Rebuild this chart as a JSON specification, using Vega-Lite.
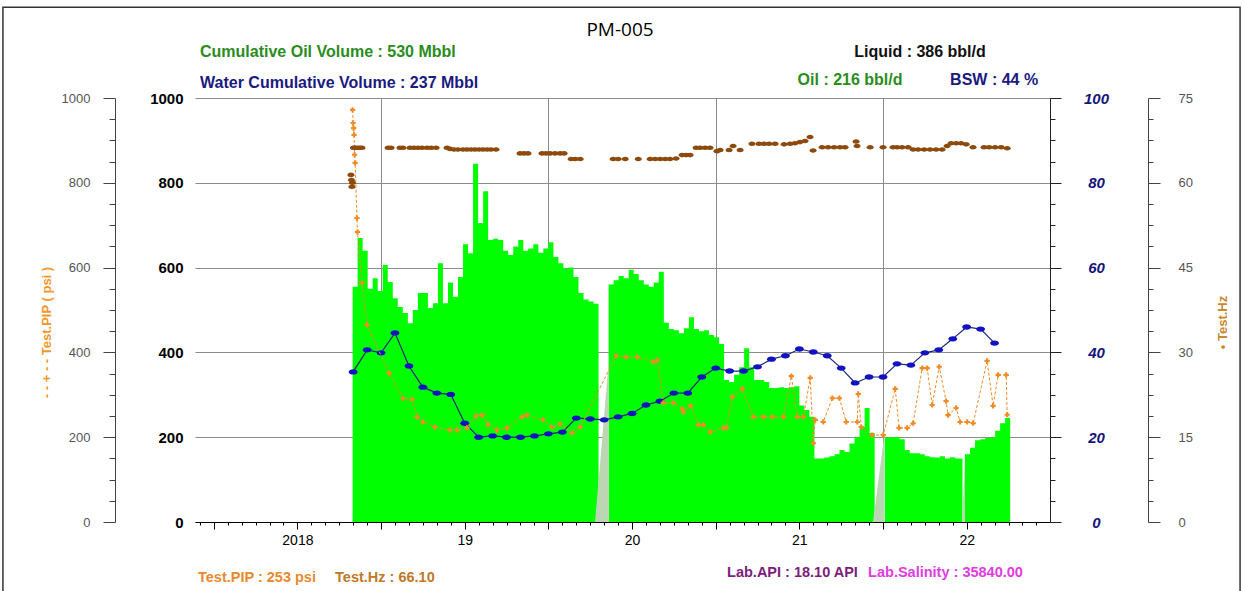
{
  "$schema": "https://vega.github.io/schema/vega-lite/v6.json",
  "width": 855,
  "height": 424,
  "autosize": {"type": "none"},
  "padding": {"left": 195, "top": 98, "right": 195, "bottom": 69},
  "background": "white",
  "config": {
    "view": {"stroke": null},
    "font": "Liberation Sans",
    "axisX": {"labelFont": "Liberation Sans", "labelFontSize": 14, "labelColor": "#000", "labelPadding": 4, "domainColor": "#000", "tickColor": "#000", "gridColor": "#8c8c8c", "labelOverlap": false, "labelFlush": false, "labelBound": false}
  },
  "datasets": {
    "liquid": [
      {"t":2018.33,"liq":555},{"t":2018.36,"liq":670},{"t":2018.39,"liq":640},{"t":2018.42,"liq":550},{"t":2018.45,"liq":575},{"t":2018.48,"liq":545},{"t":2018.51,"liq":606},{"t":2018.54,"liq":566},{"t":2018.57,"liq":528},{"t":2018.60,"liq":507},
      {"t":2018.63,"liq":493},{"t":2018.66,"liq":469},{"t":2018.69,"liq":500},{"t":2018.72,"liq":540},{"t":2018.75,"liq":540},{"t":2018.78,"liq":505},{"t":2018.81,"liq":516},{"t":2018.84,"liq":610},{"t":2018.87,"liq":516},{"t":2018.90,"liq":565},
      {"t":2018.93,"liq":531},{"t":2018.96,"liq":578},{"t":2018.99,"liq":655},{"t":2019.02,"liq":634},{"t":2019.05,"liq":845},{"t":2019.08,"liq":705},{"t":2019.11,"liq":780},{"t":2019.14,"liq":665},{"t":2019.17,"liq":668},{"t":2019.20,"liq":665},
      {"t":2019.23,"liq":640},{"t":2019.26,"liq":630},{"t":2019.29,"liq":650},{"t":2019.32,"liq":665},{"t":2019.35,"liq":640},{"t":2019.38,"liq":645},{"t":2019.41,"liq":655},{"t":2019.44,"liq":635},{"t":2019.47,"liq":645},{"t":2019.50,"liq":660},
      {"t":2019.53,"liq":625},{"t":2019.56,"liq":610},{"t":2019.59,"liq":598},{"t":2019.62,"liq":600},{"t":2019.65,"liq":578},{"t":2019.68,"liq":540},{"t":2019.71,"liq":525},{"t":2019.74,"liq":520},{"t":2019.77,"liq":515},{"t":2019.80,"liq":0},
      {"t":2019.83,"liq":0},{"t":2019.86,"liq":560},{"t":2019.89,"liq":570},{"t":2019.92,"liq":580},{"t":2019.95,"liq":575},{"t":2019.98,"liq":595},{"t":2020.01,"liq":585},{"t":2020.04,"liq":570},{"t":2020.07,"liq":560},{"t":2020.10,"liq":555},
      {"t":2020.13,"liq":565},{"t":2020.16,"liq":590},{"t":2020.19,"liq":470},{"t":2020.22,"liq":455},{"t":2020.25,"liq":452},{"t":2020.28,"liq":445},{"t":2020.31,"liq":457},{"t":2020.34,"liq":483},{"t":2020.37,"liq":455},{"t":2020.40,"liq":450},
      {"t":2020.43,"liq":452},{"t":2020.46,"liq":441},{"t":2020.49,"liq":436},{"t":2020.52,"liq":420},{"t":2020.55,"liq":335},{"t":2020.58,"liq":330},{"t":2020.61,"liq":347},{"t":2020.64,"liq":365},{"t":2020.67,"liq":410},{"t":2020.70,"liq":365},
      {"t":2020.73,"liq":335},{"t":2020.76,"liq":335},{"t":2020.79,"liq":330},{"t":2020.82,"liq":316},{"t":2020.85,"liq":316},{"t":2020.88,"liq":318},{"t":2020.91,"liq":316},{"t":2020.94,"liq":318},{"t":2020.97,"liq":320},{"t":2021.00,"liq":275},
      {"t":2021.03,"liq":264},{"t":2021.06,"liq":248},{"t":2021.09,"liq":150},{"t":2021.12,"liq":150},{"t":2021.15,"liq":152},{"t":2021.18,"liq":155},{"t":2021.21,"liq":160},{"t":2021.24,"liq":170},{"t":2021.27,"liq":165},{"t":2021.30,"liq":185},
      {"t":2021.33,"liq":200},{"t":2021.36,"liq":224},{"t":2021.39,"liq":269},{"t":2021.42,"liq":210},{"t":2021.45,"liq":0},{"t":2021.48,"liq":0},{"t":2021.51,"liq":200},{"t":2021.54,"liq":200},{"t":2021.57,"liq":200},{"t":2021.60,"liq":195},
      {"t":2021.63,"liq":170},{"t":2021.66,"liq":162},{"t":2021.69,"liq":162},{"t":2021.72,"liq":160},{"t":2021.75,"liq":155},{"t":2021.78,"liq":153},{"t":2021.81,"liq":152},{"t":2021.84,"liq":155},{"t":2021.87,"liq":150},{"t":2021.90,"liq":153},
      {"t":2021.93,"liq":150},{"t":2021.96,"liq":150},{"t":2021.975,"liq":0},{"t":2021.99,"liq":160},{"t":2022.02,"liq":175},{"t":2022.05,"liq":193},{"t":2022.08,"liq":195},{"t":2022.11,"liq":198},{"t":2022.14,"liq":200},{"t":2022.17,"liq":215},
      {"t":2022.20,"liq":233},{"t":2022.23,"liq":245},{"t":2022.26,"liq":0}
    ],
    "gaps": [
      {"t":2019.779,"liq":0},{"t":2019.862,"liq":385},{"t":2019.8621,"liq":0},
      {"t":2021.440,"liq":0},{"t":2021.506,"liq":200},{"t":2021.5061,"liq":0},
      {"t":2021.972,"liq":0},{"t":2021.99,"liq":150},{"t":2021.9901,"liq":0}
    ],
    "bsw": [
      {"t":2018.3333,"bsw":35.4},{"t":2018.4167,"bsw":40.6},{"t":2018.5,"bsw":39.9},{"t":2018.5833,"bsw":44.6},{"t":2018.6667,"bsw":36.8},{"t":2018.75,"bsw":31.8},{"t":2018.8333,"bsw":30.4},{"t":2018.9167,"bsw":30.1},
      {"t":2019,"bsw":23.3},{"t":2019.0833,"bsw":20.0},{"t":2019.1667,"bsw":20.3},{"t":2019.25,"bsw":20.0},{"t":2019.3333,"bsw":20.0},{"t":2019.4167,"bsw":20.3},{"t":2019.5,"bsw":20.8},{"t":2019.5833,"bsw":21.2},{"t":2019.6667,"bsw":24.5},{"t":2019.75,"bsw":24.3},{"t":2019.8333,"bsw":24.1},{"t":2019.9167,"bsw":24.8},
      {"t":2020,"bsw":25.6},{"t":2020.0833,"bsw":27.6},{"t":2020.1667,"bsw":28.5},{"t":2020.25,"bsw":30.4},{"t":2020.3333,"bsw":30.4},{"t":2020.4167,"bsw":34.2},{"t":2020.5,"bsw":36.3},{"t":2020.5833,"bsw":35.6},{"t":2020.6667,"bsw":35.6},{"t":2020.75,"bsw":36.6},{"t":2020.8333,"bsw":38.4},{"t":2020.9167,"bsw":39.2},
      {"t":2021,"bsw":40.8},{"t":2021.0833,"bsw":40.1},{"t":2021.1667,"bsw":39.2},{"t":2021.25,"bsw":36.3},{"t":2021.3333,"bsw":32.8},{"t":2021.4167,"bsw":34.2},{"t":2021.5,"bsw":34.2},{"t":2021.5833,"bsw":37.3},{"t":2021.6667,"bsw":37.0},{"t":2021.75,"bsw":39.9},{"t":2021.8333,"bsw":40.6},{"t":2021.9167,"bsw":43.2},
      {"t":2022,"bsw":46.0},{"t":2022.0833,"bsw":45.5},{"t":2022.1667,"bsw":42.2}
    ],
    "pip": [
      {"t":2018.330,"pip":972},{"t":2018.333,"pip":941},{"t":2018.336,"pip":929},{"t":2018.339,"pip":913},{"t":2018.342,"pip":866},{"t":2018.345,"pip":847},{"t":2018.356,"pip":717},{"t":2018.359,"pip":684},{"t":2018.386,"pip":564},{"t":2018.416,"pip":465},
      {"t":2018.548,"pip":351},{"t":2018.631,"pip":292},{"t":2018.685,"pip":289},{"t":2018.715,"pip":248},{"t":2018.751,"pip":236},{"t":2018.822,"pip":224},{"t":2018.912,"pip":217},{"t":2018.954,"pip":217},{"t":2019.014,"pip":222},{"t":2019.068,"pip":250},
      {"t":2019.104,"pip":252},{"t":2019.140,"pip":230},{"t":2019.193,"pip":217},{"t":2019.253,"pip":222},{"t":2019.343,"pip":248},{"t":2019.373,"pip":252},{"t":2019.468,"pip":241},{"t":2019.522,"pip":224},{"t":2019.570,"pip":231},{"t":2019.642,"pip":210},
      {"t":2019.690,"pip":224},{"t":2019.905,"pip":392},{"t":2019.965,"pip":389},{"t":2020.031,"pip":389},{"t":2020.127,"pip":377},{"t":2020.151,"pip":382},{"t":2020.187,"pip":281},{"t":2020.247,"pip":281},{"t":2020.301,"pip":267},{"t":2020.307,"pip":259},
      {"t":2020.349,"pip":274},{"t":2020.396,"pip":229},{"t":2020.426,"pip":229},{"t":2020.468,"pip":212},{"t":2020.546,"pip":222},{"t":2020.564,"pip":222},{"t":2020.600,"pip":295},{"t":2020.659,"pip":314},{"t":2020.725,"pip":248},{"t":2020.785,"pip":248},
      {"t":2020.839,"pip":248},{"t":2020.905,"pip":248},{"t":2020.952,"pip":344},{"t":2020.988,"pip":248},{"t":2021.024,"pip":248},{"t":2021.065,"pip":340},{"t":2021.083,"pip":186},{"t":2021.095,"pip":241},{"t":2021.143,"pip":236},{"t":2021.197,"pip":292},
      {"t":2021.239,"pip":292},{"t":2021.280,"pip":236},{"t":2021.346,"pip":236},{"t":2021.352,"pip":302},{"t":2021.370,"pip":224},{"t":2021.435,"pip":205},{"t":2021.501,"pip":205},{"t":2021.573,"pip":314},{"t":2021.596,"pip":222},{"t":2021.644,"pip":222},
      {"t":2021.680,"pip":233},{"t":2021.734,"pip":363},{"t":2021.764,"pip":363},{"t":2021.794,"pip":276},{"t":2021.836,"pip":366},{"t":2021.877,"pip":285},{"t":2021.889,"pip":252},{"t":2021.937,"pip":269},{"t":2021.961,"pip":236},{"t":2022.003,"pip":236},
      {"t":2022.039,"pip":233},{"t":2022.122,"pip":380},{"t":2022.158,"pip":274},{"t":2022.188,"pip":347},{"t":2022.236,"pip":347},{"t":2022.242,"pip":253}
    ],
    "hz": [
      {"t":2018.320,"hz":61.4},{"t":2018.323,"hz":60.5},{"t":2018.326,"hz":59.3},{"t":2018.329,"hz":60.0},{"t":2018.335,"hz":66.2},{"t":2018.341,"hz":66.2},{"t":2018.350,"hz":66.2},{"t":2018.362,"hz":66.2},{"t":2018.374,"hz":66.2},{"t":2018.386,"hz":66.2},
      {"t":2018.542,"hz":66.2},{"t":2018.560,"hz":66.2},{"t":2018.613,"hz":66.2},{"t":2018.631,"hz":66.2},{"t":2018.673,"hz":66.2},{"t":2018.697,"hz":66.2},{"t":2018.721,"hz":66.2},{"t":2018.745,"hz":66.2},{"t":2018.775,"hz":66.2},{"t":2018.799,"hz":66.2},
      {"t":2018.829,"hz":66.2},{"t":2018.894,"hz":66.2},{"t":2018.912,"hz":66.0},{"t":2018.936,"hz":65.9},{"t":2018.960,"hz":65.9},{"t":2018.990,"hz":65.9},{"t":2019.014,"hz":65.9},{"t":2019.038,"hz":65.9},{"t":2019.062,"hz":65.9},{"t":2019.086,"hz":65.9},
      {"t":2019.110,"hz":65.9},{"t":2019.134,"hz":65.9},{"t":2019.157,"hz":65.9},{"t":2019.187,"hz":65.9},{"t":2019.331,"hz":65.2},{"t":2019.354,"hz":65.2},{"t":2019.378,"hz":65.2},{"t":2019.462,"hz":65.2},{"t":2019.486,"hz":65.2},{"t":2019.510,"hz":65.2},
      {"t":2019.540,"hz":65.2},{"t":2019.570,"hz":65.2},{"t":2019.594,"hz":65.2},{"t":2019.636,"hz":64.2},{"t":2019.660,"hz":64.2},{"t":2019.690,"hz":64.2},{"t":2019.887,"hz":64.2},{"t":2019.917,"hz":64.2},{"t":2019.959,"hz":64.2},{"t":2020.037,"hz":64.2},
      {"t":2020.108,"hz":64.2},{"t":2020.138,"hz":64.2},{"t":2020.168,"hz":64.2},{"t":2020.198,"hz":64.2},{"t":2020.227,"hz":64.2},{"t":2020.263,"hz":64.3},{"t":2020.299,"hz":64.9},{"t":2020.323,"hz":64.9},{"t":2020.347,"hz":64.9},{"t":2020.383,"hz":66.2},
      {"t":2020.407,"hz":66.2},{"t":2020.437,"hz":66.2},{"t":2020.466,"hz":66.2},{"t":2020.508,"hz":65.6},{"t":2020.526,"hz":65.8},{"t":2020.580,"hz":65.8},{"t":2020.604,"hz":66.5},{"t":2020.646,"hz":65.8},{"t":2020.717,"hz":66.9},{"t":2020.759,"hz":66.9},
      {"t":2020.789,"hz":66.9},{"t":2020.819,"hz":66.9},{"t":2020.855,"hz":66.9},{"t":2020.909,"hz":66.8},{"t":2020.945,"hz":66.9},{"t":2020.974,"hz":67.0},{"t":2021.004,"hz":67.2},{"t":2021.034,"hz":67.4},{"t":2021.064,"hz":68.1},{"t":2021.082,"hz":65.7},
      {"t":2021.136,"hz":66.3},{"t":2021.172,"hz":66.3},{"t":2021.208,"hz":66.3},{"t":2021.243,"hz":66.3},{"t":2021.273,"hz":66.3},{"t":2021.339,"hz":67.3},{"t":2021.345,"hz":66.5},{"t":2021.423,"hz":66.3},{"t":2021.500,"hz":66.3},{"t":2021.560,"hz":66.3},
      {"t":2021.584,"hz":66.3},{"t":2021.614,"hz":66.3},{"t":2021.650,"hz":66.3},{"t":2021.680,"hz":65.9},{"t":2021.710,"hz":65.9},{"t":2021.746,"hz":65.9},{"t":2021.781,"hz":65.9},{"t":2021.817,"hz":65.9},{"t":2021.853,"hz":65.9},{"t":2021.883,"hz":66.5},
      {"t":2021.907,"hz":67.0},{"t":2021.937,"hz":67.0},{"t":2021.967,"hz":67.0},{"t":2021.997,"hz":66.8},{"t":2022.038,"hz":66.3},{"t":2022.104,"hz":66.3},{"t":2022.134,"hz":66.3},{"t":2022.170,"hz":66.3},{"t":2022.206,"hz":66.3},{"t":2022.242,"hz":66.1}
    ]
  },
  "layer": [
    {
      "data": {"name": "liquid"},
      "mark": {"type": "area", "color": "#00ff00", "interpolate": "step-after"},
      "encoding": {
        "x": {"field": "t", "type": "quantitative", "scale": {"domain": [2017.388, 2022.498], "nice": false, "zero": false},
          "axis": {"title": null, "values": [2017.4167,2017.5,2017.5833,2017.6667,2017.75,2017.8333,2017.9167,2018,2018.0833,2018.1667,2018.25,2018.3333,2018.4167,2018.5,2018.5833,2018.6667,2018.75,2018.8333,2018.9167,2019,2019.0833,2019.1667,2019.25,2019.3333,2019.4167,2019.5,2019.5833,2019.6667,2019.75,2019.8333,2019.9167,2020,2020.0833,2020.1667,2020.25,2020.3333,2020.4167,2020.5,2020.5833,2020.6667,2020.75,2020.8333,2020.9167,2021,2021.0833,2021.1667,2021.25,2021.3333,2021.4167,2021.5,2021.5833,2021.6667,2021.75,2021.8333,2021.9167,2022,2022.0833,2022.1667,2022.25,2022.3333,2022.4167], "labelExpr": "datum.value == 2018 ? '2018' : (datum.value % 1 == 0 ? substring(toString(datum.value), 2, 4) : '')", "tickSize": {"condition": {"test": "datum.value % 0.5 == 0", "value": 7}, "value": 3}, "grid": true, "gridOpacity": {"condition": {"test": "datum.value % 1 == 0.5 && datum.value > 2018", "value": 1}, "value": 0}}},
        "y": {
          "field": "liq", "type": "quantitative",
          "scale": {"domain": [0, 1000], "nice": false},
          "axis": {
            "orient": "left", "title": null, "values": [0, 200, 400, 600, 800, 1000], "format": "d",
            "grid": true, "gridColor": "#8c8c8c", "ticks": false, "domain": false,
            "labelFont": "Liberation Sans", "labelFontSize": 15, "labelFontWeight": "bold", "labelColor": "#000",
            "labelPadding": 12, "labelOverlap": false, "labelBound": false, "labelFlush": false
          }
        }
      }
    },
    {
      "data": {"name": "gaps"},
      "mark": {"type": "area", "color": "#bcd6b4", "interpolate": "linear"},
      "encoding": {
        "x": {"field": "t", "type": "quantitative", "scale": {"domain": [2017.388, 2022.498], "nice": false, "zero": false},
          "axis": {"title": null, "values": [2017.4167,2017.5,2017.5833,2017.6667,2017.75,2017.8333,2017.9167,2018,2018.0833,2018.1667,2018.25,2018.3333,2018.4167,2018.5,2018.5833,2018.6667,2018.75,2018.8333,2018.9167,2019,2019.0833,2019.1667,2019.25,2019.3333,2019.4167,2019.5,2019.5833,2019.6667,2019.75,2019.8333,2019.9167,2020,2020.0833,2020.1667,2020.25,2020.3333,2020.4167,2020.5,2020.5833,2020.6667,2020.75,2020.8333,2020.9167,2021,2021.0833,2021.1667,2021.25,2021.3333,2021.4167,2021.5,2021.5833,2021.6667,2021.75,2021.8333,2021.9167,2022,2022.0833,2022.1667,2022.25,2022.3333,2022.4167], "labelExpr": "datum.value == 2018 ? '2018' : (datum.value % 1 == 0 ? substring(toString(datum.value), 2, 4) : '')", "tickSize": {"condition": {"test": "datum.value % 0.5 == 0", "value": 7}, "value": 3}, "grid": true, "gridOpacity": {"condition": {"test": "datum.value % 1 == 0.5 && datum.value > 2018", "value": 1}, "value": 0}}},
        "y": {"field": "liq", "type": "quantitative", "scale": {"domain": [0, 1000], "nice": false}, "axis": null}
      }
    },
    {
      "data": {"name": "bsw"},
      "mark": {"type": "line", "color": "#1c2a7e", "strokeWidth": 1.2,
        "point": {"shape": "M-1,0A1,0.6,0,1,0,1,0A1,0.6,0,1,0,-1,0Z", "size": 80, "filled": true, "color": "#1212c0", "opacity": 1}},
      "encoding": {
        "x": {"field": "t", "type": "quantitative", "scale": {"domain": [2017.388, 2022.498], "nice": false, "zero": false},
          "axis": {"title": null, "values": [2017.4167,2017.5,2017.5833,2017.6667,2017.75,2017.8333,2017.9167,2018,2018.0833,2018.1667,2018.25,2018.3333,2018.4167,2018.5,2018.5833,2018.6667,2018.75,2018.8333,2018.9167,2019,2019.0833,2019.1667,2019.25,2019.3333,2019.4167,2019.5,2019.5833,2019.6667,2019.75,2019.8333,2019.9167,2020,2020.0833,2020.1667,2020.25,2020.3333,2020.4167,2020.5,2020.5833,2020.6667,2020.75,2020.8333,2020.9167,2021,2021.0833,2021.1667,2021.25,2021.3333,2021.4167,2021.5,2021.5833,2021.6667,2021.75,2021.8333,2021.9167,2022,2022.0833,2022.1667,2022.25,2022.3333,2022.4167], "labelExpr": "datum.value == 2018 ? '2018' : (datum.value % 1 == 0 ? substring(toString(datum.value), 2, 4) : '')", "tickSize": {"condition": {"test": "datum.value % 0.5 == 0", "value": 7}, "value": 3}, "grid": true, "gridOpacity": {"condition": {"test": "datum.value % 1 == 0.5 && datum.value > 2018", "value": 1}, "value": 0}}},
        "y": {
          "field": "bsw", "type": "quantitative",
          "scale": {"domain": [0, 100], "nice": false},
          "axis": {
            "orient": "right", "title": null,
            "values": [0,5,10,15,20,25,30,35,40,45,50,55,60,65,70,75,80,85,90,95,100],
            "labelExpr": "datum.value % 20 == 0 ? format(datum.value, 'd') : ''",
            "tickSize": {"condition": {"test": "datum.value % 20 == 0", "value": 11}, "value": 5},
            "tickColor": "#222", "domainColor": "#222", "grid": false,
            "labelFont": "Liberation Sans", "labelFontSize": 15, "labelFontWeight": "bold", "labelFontStyle": "italic",
            "labelColor": "#15157a", "labelAlign": "center", "labelPadding": 35,
            "labelOverlap": false, "labelBound": false, "labelFlush": false
          }
        }
      }
    },
    {
      "data": {"name": "pip"},
      "mark": {"type": "line", "color": "#f08c28", "strokeWidth": 1, "strokeDash": [3, 2],
        "point": {"shape": "cross", "size": 28, "filled": true, "color": "#f08c28", "opacity": 1}},
      "encoding": {
        "x": {"field": "t", "type": "quantitative", "scale": {"domain": [2017.388, 2022.498], "nice": false, "zero": false},
          "axis": {"title": null, "values": [2017.4167,2017.5,2017.5833,2017.6667,2017.75,2017.8333,2017.9167,2018,2018.0833,2018.1667,2018.25,2018.3333,2018.4167,2018.5,2018.5833,2018.6667,2018.75,2018.8333,2018.9167,2019,2019.0833,2019.1667,2019.25,2019.3333,2019.4167,2019.5,2019.5833,2019.6667,2019.75,2019.8333,2019.9167,2020,2020.0833,2020.1667,2020.25,2020.3333,2020.4167,2020.5,2020.5833,2020.6667,2020.75,2020.8333,2020.9167,2021,2021.0833,2021.1667,2021.25,2021.3333,2021.4167,2021.5,2021.5833,2021.6667,2021.75,2021.8333,2021.9167,2022,2022.0833,2022.1667,2022.25,2022.3333,2022.4167], "labelExpr": "datum.value == 2018 ? '2018' : (datum.value % 1 == 0 ? substring(toString(datum.value), 2, 4) : '')", "tickSize": {"condition": {"test": "datum.value % 0.5 == 0", "value": 7}, "value": 3}, "grid": true, "gridOpacity": {"condition": {"test": "datum.value % 1 == 0.5 && datum.value > 2018", "value": 1}, "value": 0}}},
        "y": {
          "field": "pip", "type": "quantitative",
          "scale": {"domain": [0, 1000], "nice": false},
          "axis": {
            "orient": "left", "offset": 80,
            "values": [0,50,100,150,200,250,300,350,400,450,500,550,600,650,700,750,800,850,900,950,1000],
            "labelExpr": "datum.value % 200 == 0 ? format(datum.value, 'd') : ''",
            "tickSize": {"condition": {"test": "datum.value % 200 == 0", "value": 12}, "value": 6},
            "tickColor": "#444", "domainColor": "#444", "grid": false,
            "labelFont": "Liberation Sans", "labelFontSize": 13, "labelColor": "#555", "labelPadding": 13,
            "labelOverlap": false, "labelBound": false, "labelFlush": false,
            "title": "- - + - -  Test.PIP ( psi )", "titleColor": "#f0982e", "titleFont": "Liberation Sans",
            "titleFontSize": 13, "titleFontWeight": "bold", "titlePadding": 8, "titleY": 234
          }
        }
      }
    },
    {
      "data": {"name": "hz"},
      "mark": {"type": "point", "shape": "M-1,0A1,0.65,0,1,0,1,0A1,0.65,0,1,0,-1,0Z", "size": 50, "filled": true, "color": "#8c4a0c", "opacity": 1},
      "encoding": {
        "x": {"field": "t", "type": "quantitative", "scale": {"domain": [2017.388, 2022.498], "nice": false, "zero": false},
          "axis": {"title": null, "values": [2017.4167,2017.5,2017.5833,2017.6667,2017.75,2017.8333,2017.9167,2018,2018.0833,2018.1667,2018.25,2018.3333,2018.4167,2018.5,2018.5833,2018.6667,2018.75,2018.8333,2018.9167,2019,2019.0833,2019.1667,2019.25,2019.3333,2019.4167,2019.5,2019.5833,2019.6667,2019.75,2019.8333,2019.9167,2020,2020.0833,2020.1667,2020.25,2020.3333,2020.4167,2020.5,2020.5833,2020.6667,2020.75,2020.8333,2020.9167,2021,2021.0833,2021.1667,2021.25,2021.3333,2021.4167,2021.5,2021.5833,2021.6667,2021.75,2021.8333,2021.9167,2022,2022.0833,2022.1667,2022.25,2022.3333,2022.4167], "labelExpr": "datum.value == 2018 ? '2018' : (datum.value % 1 == 0 ? substring(toString(datum.value), 2, 4) : '')", "tickSize": {"condition": {"test": "datum.value % 0.5 == 0", "value": 7}, "value": 3}, "grid": true, "gridOpacity": {"condition": {"test": "datum.value % 1 == 0.5 && datum.value > 2018", "value": 1}, "value": 0}}},
        "y": {
          "field": "hz", "type": "quantitative",
          "scale": {"domain": [0, 75], "nice": false},
          "axis": {
            "orient": "right", "offset": 98,
            "values": [0,3.75,7.5,11.25,15,18.75,22.5,26.25,30,33.75,37.5,41.25,45,48.75,52.5,56.25,60,63.75,67.5,71.25,75],
            "labelExpr": "datum.value % 15 == 0 ? format(datum.value, 'd') : ''",
            "tickSize": {"condition": {"test": "datum.value % 15 == 0", "value": 12}, "value": 5},
            "tickColor": "#444", "domainColor": "#444", "grid": false,
            "labelFont": "Liberation Sans", "labelFontSize": 13, "labelColor": "#555", "labelPadding": 18,
            "labelOverlap": false, "labelBound": false, "labelFlush": false,
            "title": "•   Test.Hz", "titleColor": "#c98a2e", "titleFont": "Liberation Sans",
            "titleFontSize": 13, "titleFontWeight": "bold", "titleAngle": 270, "titleBaseline": "top",
            "titlePadding": 24, "titleY": 224
          }
        }
      }
    },
    {
      "data": {"values": [{}]},
      "mark": {"type": "rect", "fill": "transparent", "stroke": "#333", "strokeWidth": 1.5},
      "encoding": {
        "x": {"datum": 2016.24, "type": "quantitative", "scale": {"domain": [2017.388, 2022.498], "nice": false, "zero": false},
          "axis": {"title": null, "values": [2017.4167,2017.5,2017.5833,2017.6667,2017.75,2017.8333,2017.9167,2018,2018.0833,2018.1667,2018.25,2018.3333,2018.4167,2018.5,2018.5833,2018.6667,2018.75,2018.8333,2018.9167,2019,2019.0833,2019.1667,2019.25,2019.3333,2019.4167,2019.5,2019.5833,2019.6667,2019.75,2019.8333,2019.9167,2020,2020.0833,2020.1667,2020.25,2020.3333,2020.4167,2020.5,2020.5833,2020.6667,2020.75,2020.8333,2020.9167,2021,2021.0833,2021.1667,2021.25,2021.3333,2021.4167,2021.5,2021.5833,2021.6667,2021.75,2021.8333,2021.9167,2022,2022.0833,2022.1667,2022.25,2022.3333,2022.4167], "labelExpr": "datum.value == 2018 ? '2018' : (datum.value % 1 == 0 ? substring(toString(datum.value), 2, 4) : '')", "tickSize": {"condition": {"test": "datum.value % 0.5 == 0", "value": 7}, "value": 3}, "grid": true, "gridOpacity": {"condition": {"test": "datum.value % 1 == 0.5 && datum.value > 2018", "value": 1}, "value": 0}}},
        "x2": {"datum": 2023.634},
        "y": {"datum": 1214, "type": "quantitative", "scale": {"domain": [0, 1000], "nice": false}, "axis": null},
        "y2": {"datum": -170}
      }
    },
    {
      "data": {"values": [{"label": "PM-005"}]},
      "mark": {"type": "text", "font": "Open Sans", "fontSize": 19, "color": "#000", "align": "center", "baseline": "middle"},
      "encoding": {
        "text": {"field": "label"},
        "x": {"datum": 2019.928, "type": "quantitative", "scale": {"domain": [2017.388, 2022.498], "nice": false, "zero": false},
          "axis": {"title": null, "values": [2017.4167,2017.5,2017.5833,2017.6667,2017.75,2017.8333,2017.9167,2018,2018.0833,2018.1667,2018.25,2018.3333,2018.4167,2018.5,2018.5833,2018.6667,2018.75,2018.8333,2018.9167,2019,2019.0833,2019.1667,2019.25,2019.3333,2019.4167,2019.5,2019.5833,2019.6667,2019.75,2019.8333,2019.9167,2020,2020.0833,2020.1667,2020.25,2020.3333,2020.4167,2020.5,2020.5833,2020.6667,2020.75,2020.8333,2020.9167,2021,2021.0833,2021.1667,2021.25,2021.3333,2021.4167,2021.5,2021.5833,2021.6667,2021.75,2021.8333,2021.9167,2022,2022.0833,2022.1667,2022.25,2022.3333,2022.4167], "labelExpr": "datum.value == 2018 ? '2018' : (datum.value % 1 == 0 ? substring(toString(datum.value), 2, 4) : '')", "tickSize": {"condition": {"test": "datum.value % 0.5 == 0", "value": 7}, "value": 3}, "grid": true, "gridOpacity": {"condition": {"test": "datum.value % 1 == 0.5 && datum.value > 2018", "value": 1}, "value": 0}}},
        "y": {"datum": 1160, "type": "quantitative", "scale": {"domain": [0, 1000], "nice": false}, "axis": null}
      }
    },
    {
      "data": {"values": [{"label": "Cumulative Oil Volume : 530 Mbbl"}]},
      "mark": {"type": "text", "font": "Liberation Sans", "fontSize": 16, "fontWeight": "bold", "color": "#2a8c1c", "align": "left", "baseline": "middle"},
      "encoding": {"text": {"field": "label"},
        "x": {"datum": 2017.418, "type": "quantitative", "scale": {"domain": [2017.388, 2022.498], "nice": false, "zero": false},
          "axis": {"title": null, "values": [2017.4167,2017.5,2017.5833,2017.6667,2017.75,2017.8333,2017.9167,2018,2018.0833,2018.1667,2018.25,2018.3333,2018.4167,2018.5,2018.5833,2018.6667,2018.75,2018.8333,2018.9167,2019,2019.0833,2019.1667,2019.25,2019.3333,2019.4167,2019.5,2019.5833,2019.6667,2019.75,2019.8333,2019.9167,2020,2020.0833,2020.1667,2020.25,2020.3333,2020.4167,2020.5,2020.5833,2020.6667,2020.75,2020.8333,2020.9167,2021,2021.0833,2021.1667,2021.25,2021.3333,2021.4167,2021.5,2021.5833,2021.6667,2021.75,2021.8333,2021.9167,2022,2022.0833,2022.1667,2022.25,2022.3333,2022.4167], "labelExpr": "datum.value == 2018 ? '2018' : (datum.value % 1 == 0 ? substring(toString(datum.value), 2, 4) : '')", "tickSize": {"condition": {"test": "datum.value % 0.5 == 0", "value": 7}, "value": 3}, "grid": true, "gridOpacity": {"condition": {"test": "datum.value % 1 == 0.5 && datum.value > 2018", "value": 1}, "value": 0}}},
        "y": {"datum": 1108, "type": "quantitative", "scale": {"domain": [0, 1000], "nice": false}, "axis": null}}
    },
    {
      "data": {"values": [{"label": "Water Cumulative Volume : 237 Mbbl"}]},
      "mark": {"type": "text", "font": "Liberation Sans", "fontSize": 16, "fontWeight": "bold", "color": "#1a1a80", "align": "left", "baseline": "middle"},
      "encoding": {"text": {"field": "label"},
        "x": {"datum": 2017.418, "type": "quantitative", "scale": {"domain": [2017.388, 2022.498], "nice": false, "zero": false},
          "axis": {"title": null, "values": [2017.4167,2017.5,2017.5833,2017.6667,2017.75,2017.8333,2017.9167,2018,2018.0833,2018.1667,2018.25,2018.3333,2018.4167,2018.5,2018.5833,2018.6667,2018.75,2018.8333,2018.9167,2019,2019.0833,2019.1667,2019.25,2019.3333,2019.4167,2019.5,2019.5833,2019.6667,2019.75,2019.8333,2019.9167,2020,2020.0833,2020.1667,2020.25,2020.3333,2020.4167,2020.5,2020.5833,2020.6667,2020.75,2020.8333,2020.9167,2021,2021.0833,2021.1667,2021.25,2021.3333,2021.4167,2021.5,2021.5833,2021.6667,2021.75,2021.8333,2021.9167,2022,2022.0833,2022.1667,2022.25,2022.3333,2022.4167], "labelExpr": "datum.value == 2018 ? '2018' : (datum.value % 1 == 0 ? substring(toString(datum.value), 2, 4) : '')", "tickSize": {"condition": {"test": "datum.value % 0.5 == 0", "value": 7}, "value": 3}, "grid": true, "gridOpacity": {"condition": {"test": "datum.value % 1 == 0.5 && datum.value > 2018", "value": 1}, "value": 0}}},
        "y": {"datum": 1035, "type": "quantitative", "scale": {"domain": [0, 1000], "nice": false}, "axis": null}}
    },
    {
      "data": {"values": [{"label": "Liquid : 386 bbl/d"}]},
      "mark": {"type": "text", "font": "Liberation Sans", "fontSize": 16, "fontWeight": "bold", "color": "#111", "align": "center", "baseline": "middle"},
      "encoding": {"text": {"field": "label"},
        "x": {"datum": 2021.721, "type": "quantitative", "scale": {"domain": [2017.388, 2022.498], "nice": false, "zero": false},
          "axis": {"title": null, "values": [2017.4167,2017.5,2017.5833,2017.6667,2017.75,2017.8333,2017.9167,2018,2018.0833,2018.1667,2018.25,2018.3333,2018.4167,2018.5,2018.5833,2018.6667,2018.75,2018.8333,2018.9167,2019,2019.0833,2019.1667,2019.25,2019.3333,2019.4167,2019.5,2019.5833,2019.6667,2019.75,2019.8333,2019.9167,2020,2020.0833,2020.1667,2020.25,2020.3333,2020.4167,2020.5,2020.5833,2020.6667,2020.75,2020.8333,2020.9167,2021,2021.0833,2021.1667,2021.25,2021.3333,2021.4167,2021.5,2021.5833,2021.6667,2021.75,2021.8333,2021.9167,2022,2022.0833,2022.1667,2022.25,2022.3333,2022.4167], "labelExpr": "datum.value == 2018 ? '2018' : (datum.value % 1 == 0 ? substring(toString(datum.value), 2, 4) : '')", "tickSize": {"condition": {"test": "datum.value % 0.5 == 0", "value": 7}, "value": 3}, "grid": true, "gridOpacity": {"condition": {"test": "datum.value % 1 == 0.5 && datum.value > 2018", "value": 1}, "value": 0}}},
        "y": {"datum": 1108, "type": "quantitative", "scale": {"domain": [0, 1000], "nice": false}, "axis": null}}
    },
    {
      "data": {"values": [{"label": "Oil : 216 bbl/d"}]},
      "mark": {"type": "text", "font": "Liberation Sans", "fontSize": 16, "fontWeight": "bold", "color": "#2a8c1c", "align": "center", "baseline": "middle"},
      "encoding": {"text": {"field": "label"},
        "x": {"datum": 2021.303, "type": "quantitative", "scale": {"domain": [2017.388, 2022.498], "nice": false, "zero": false},
          "axis": {"title": null, "values": [2017.4167,2017.5,2017.5833,2017.6667,2017.75,2017.8333,2017.9167,2018,2018.0833,2018.1667,2018.25,2018.3333,2018.4167,2018.5,2018.5833,2018.6667,2018.75,2018.8333,2018.9167,2019,2019.0833,2019.1667,2019.25,2019.3333,2019.4167,2019.5,2019.5833,2019.6667,2019.75,2019.8333,2019.9167,2020,2020.0833,2020.1667,2020.25,2020.3333,2020.4167,2020.5,2020.5833,2020.6667,2020.75,2020.8333,2020.9167,2021,2021.0833,2021.1667,2021.25,2021.3333,2021.4167,2021.5,2021.5833,2021.6667,2021.75,2021.8333,2021.9167,2022,2022.0833,2022.1667,2022.25,2022.3333,2022.4167], "labelExpr": "datum.value == 2018 ? '2018' : (datum.value % 1 == 0 ? substring(toString(datum.value), 2, 4) : '')", "tickSize": {"condition": {"test": "datum.value % 0.5 == 0", "value": 7}, "value": 3}, "grid": true, "gridOpacity": {"condition": {"test": "datum.value % 1 == 0.5 && datum.value > 2018", "value": 1}, "value": 0}}},
        "y": {"datum": 1042, "type": "quantitative", "scale": {"domain": [0, 1000], "nice": false}, "axis": null}}
    },
    {
      "data": {"values": [{"label": "BSW : 44 %"}]},
      "mark": {"type": "text", "font": "Liberation Sans", "fontSize": 16, "fontWeight": "bold", "color": "#1a1a80", "align": "center", "baseline": "middle"},
      "encoding": {"text": {"field": "label"},
        "x": {"datum": 2022.164, "type": "quantitative", "scale": {"domain": [2017.388, 2022.498], "nice": false, "zero": false},
          "axis": {"title": null, "values": [2017.4167,2017.5,2017.5833,2017.6667,2017.75,2017.8333,2017.9167,2018,2018.0833,2018.1667,2018.25,2018.3333,2018.4167,2018.5,2018.5833,2018.6667,2018.75,2018.8333,2018.9167,2019,2019.0833,2019.1667,2019.25,2019.3333,2019.4167,2019.5,2019.5833,2019.6667,2019.75,2019.8333,2019.9167,2020,2020.0833,2020.1667,2020.25,2020.3333,2020.4167,2020.5,2020.5833,2020.6667,2020.75,2020.8333,2020.9167,2021,2021.0833,2021.1667,2021.25,2021.3333,2021.4167,2021.5,2021.5833,2021.6667,2021.75,2021.8333,2021.9167,2022,2022.0833,2022.1667,2022.25,2022.3333,2022.4167], "labelExpr": "datum.value == 2018 ? '2018' : (datum.value % 1 == 0 ? substring(toString(datum.value), 2, 4) : '')", "tickSize": {"condition": {"test": "datum.value % 0.5 == 0", "value": 7}, "value": 3}, "grid": true, "gridOpacity": {"condition": {"test": "datum.value % 1 == 0.5 && datum.value > 2018", "value": 1}, "value": 0}}},
        "y": {"datum": 1042, "type": "quantitative", "scale": {"domain": [0, 1000], "nice": false}, "axis": null}}
    },
    {
      "data": {"values": [{"label": "Test.PIP : 253 psi"}]},
      "mark": {"type": "text", "font": "Liberation Sans", "fontSize": 14.5, "fontWeight": "bold", "color": "#e8892f", "align": "left", "baseline": "middle"},
      "encoding": {"text": {"field": "label"},
        "x": {"datum": 2017.406, "type": "quantitative", "scale": {"domain": [2017.388, 2022.498], "nice": false, "zero": false},
          "axis": {"title": null, "values": [2017.4167,2017.5,2017.5833,2017.6667,2017.75,2017.8333,2017.9167,2018,2018.0833,2018.1667,2018.25,2018.3333,2018.4167,2018.5,2018.5833,2018.6667,2018.75,2018.8333,2018.9167,2019,2019.0833,2019.1667,2019.25,2019.3333,2019.4167,2019.5,2019.5833,2019.6667,2019.75,2019.8333,2019.9167,2020,2020.0833,2020.1667,2020.25,2020.3333,2020.4167,2020.5,2020.5833,2020.6667,2020.75,2020.8333,2020.9167,2021,2021.0833,2021.1667,2021.25,2021.3333,2021.4167,2021.5,2021.5833,2021.6667,2021.75,2021.8333,2021.9167,2022,2022.0833,2022.1667,2022.25,2022.3333,2022.4167], "labelExpr": "datum.value == 2018 ? '2018' : (datum.value % 1 == 0 ? substring(toString(datum.value), 2, 4) : '')", "tickSize": {"condition": {"test": "datum.value % 0.5 == 0", "value": 7}, "value": 3}, "grid": true, "gridOpacity": {"condition": {"test": "datum.value % 1 == 0.5 && datum.value > 2018", "value": 1}, "value": 0}}},
        "y": {"datum": -132, "type": "quantitative", "scale": {"domain": [0, 1000], "nice": false}, "axis": null}}
    },
    {
      "data": {"values": [{"label": "Test.Hz : 66.10"}]},
      "mark": {"type": "text", "font": "Liberation Sans", "fontSize": 14.5, "fontWeight": "bold", "color": "#c0782a", "align": "left", "baseline": "middle"},
      "encoding": {"text": {"field": "label"},
        "x": {"datum": 2018.225, "type": "quantitative", "scale": {"domain": [2017.388, 2022.498], "nice": false, "zero": false},
          "axis": {"title": null, "values": [2017.4167,2017.5,2017.5833,2017.6667,2017.75,2017.8333,2017.9167,2018,2018.0833,2018.1667,2018.25,2018.3333,2018.4167,2018.5,2018.5833,2018.6667,2018.75,2018.8333,2018.9167,2019,2019.0833,2019.1667,2019.25,2019.3333,2019.4167,2019.5,2019.5833,2019.6667,2019.75,2019.8333,2019.9167,2020,2020.0833,2020.1667,2020.25,2020.3333,2020.4167,2020.5,2020.5833,2020.6667,2020.75,2020.8333,2020.9167,2021,2021.0833,2021.1667,2021.25,2021.3333,2021.4167,2021.5,2021.5833,2021.6667,2021.75,2021.8333,2021.9167,2022,2022.0833,2022.1667,2022.25,2022.3333,2022.4167], "labelExpr": "datum.value == 2018 ? '2018' : (datum.value % 1 == 0 ? substring(toString(datum.value), 2, 4) : '')", "tickSize": {"condition": {"test": "datum.value % 0.5 == 0", "value": 7}, "value": 3}, "grid": true, "gridOpacity": {"condition": {"test": "datum.value % 1 == 0.5 && datum.value > 2018", "value": 1}, "value": 0}}},
        "y": {"datum": -132, "type": "quantitative", "scale": {"domain": [0, 1000], "nice": false}, "axis": null}}
    },
    {
      "data": {"values": [{"label": "Lab.API : 18.10 API"}]},
      "mark": {"type": "text", "font": "Liberation Sans", "fontSize": 14.5, "fontWeight": "bold", "color": "#7b1e7b", "align": "left", "baseline": "middle"},
      "encoding": {"text": {"field": "label"},
        "x": {"datum": 2020.568, "type": "quantitative", "scale": {"domain": [2017.388, 2022.498], "nice": false, "zero": false},
          "axis": {"title": null, "values": [2017.4167,2017.5,2017.5833,2017.6667,2017.75,2017.8333,2017.9167,2018,2018.0833,2018.1667,2018.25,2018.3333,2018.4167,2018.5,2018.5833,2018.6667,2018.75,2018.8333,2018.9167,2019,2019.0833,2019.1667,2019.25,2019.3333,2019.4167,2019.5,2019.5833,2019.6667,2019.75,2019.8333,2019.9167,2020,2020.0833,2020.1667,2020.25,2020.3333,2020.4167,2020.5,2020.5833,2020.6667,2020.75,2020.8333,2020.9167,2021,2021.0833,2021.1667,2021.25,2021.3333,2021.4167,2021.5,2021.5833,2021.6667,2021.75,2021.8333,2021.9167,2022,2022.0833,2022.1667,2022.25,2022.3333,2022.4167], "labelExpr": "datum.value == 2018 ? '2018' : (datum.value % 1 == 0 ? substring(toString(datum.value), 2, 4) : '')", "tickSize": {"condition": {"test": "datum.value % 0.5 == 0", "value": 7}, "value": 3}, "grid": true, "gridOpacity": {"condition": {"test": "datum.value % 1 == 0.5 && datum.value > 2018", "value": 1}, "value": 0}}},
        "y": {"datum": -120, "type": "quantitative", "scale": {"domain": [0, 1000], "nice": false}, "axis": null}}
    },
    {
      "data": {"values": [{"label": "Lab.Salinity : 35840.00"}]},
      "mark": {"type": "text", "font": "Liberation Sans", "fontSize": 14.5, "fontWeight": "bold", "color": "#e03ce0", "align": "left", "baseline": "middle"},
      "encoding": {"text": {"field": "label"},
        "x": {"datum": 2021.411, "type": "quantitative", "scale": {"domain": [2017.388, 2022.498], "nice": false, "zero": false},
          "axis": {"title": null, "values": [2017.4167,2017.5,2017.5833,2017.6667,2017.75,2017.8333,2017.9167,2018,2018.0833,2018.1667,2018.25,2018.3333,2018.4167,2018.5,2018.5833,2018.6667,2018.75,2018.8333,2018.9167,2019,2019.0833,2019.1667,2019.25,2019.3333,2019.4167,2019.5,2019.5833,2019.6667,2019.75,2019.8333,2019.9167,2020,2020.0833,2020.1667,2020.25,2020.3333,2020.4167,2020.5,2020.5833,2020.6667,2020.75,2020.8333,2020.9167,2021,2021.0833,2021.1667,2021.25,2021.3333,2021.4167,2021.5,2021.5833,2021.6667,2021.75,2021.8333,2021.9167,2022,2022.0833,2022.1667,2022.25,2022.3333,2022.4167], "labelExpr": "datum.value == 2018 ? '2018' : (datum.value % 1 == 0 ? substring(toString(datum.value), 2, 4) : '')", "tickSize": {"condition": {"test": "datum.value % 0.5 == 0", "value": 7}, "value": 3}, "grid": true, "gridOpacity": {"condition": {"test": "datum.value % 1 == 0.5 && datum.value > 2018", "value": 1}, "value": 0}}},
        "y": {"datum": -120, "type": "quantitative", "scale": {"domain": [0, 1000], "nice": false}, "axis": null}}
    }
  ],
  "resolve": {"scale": {"y": "independent"}}
}
